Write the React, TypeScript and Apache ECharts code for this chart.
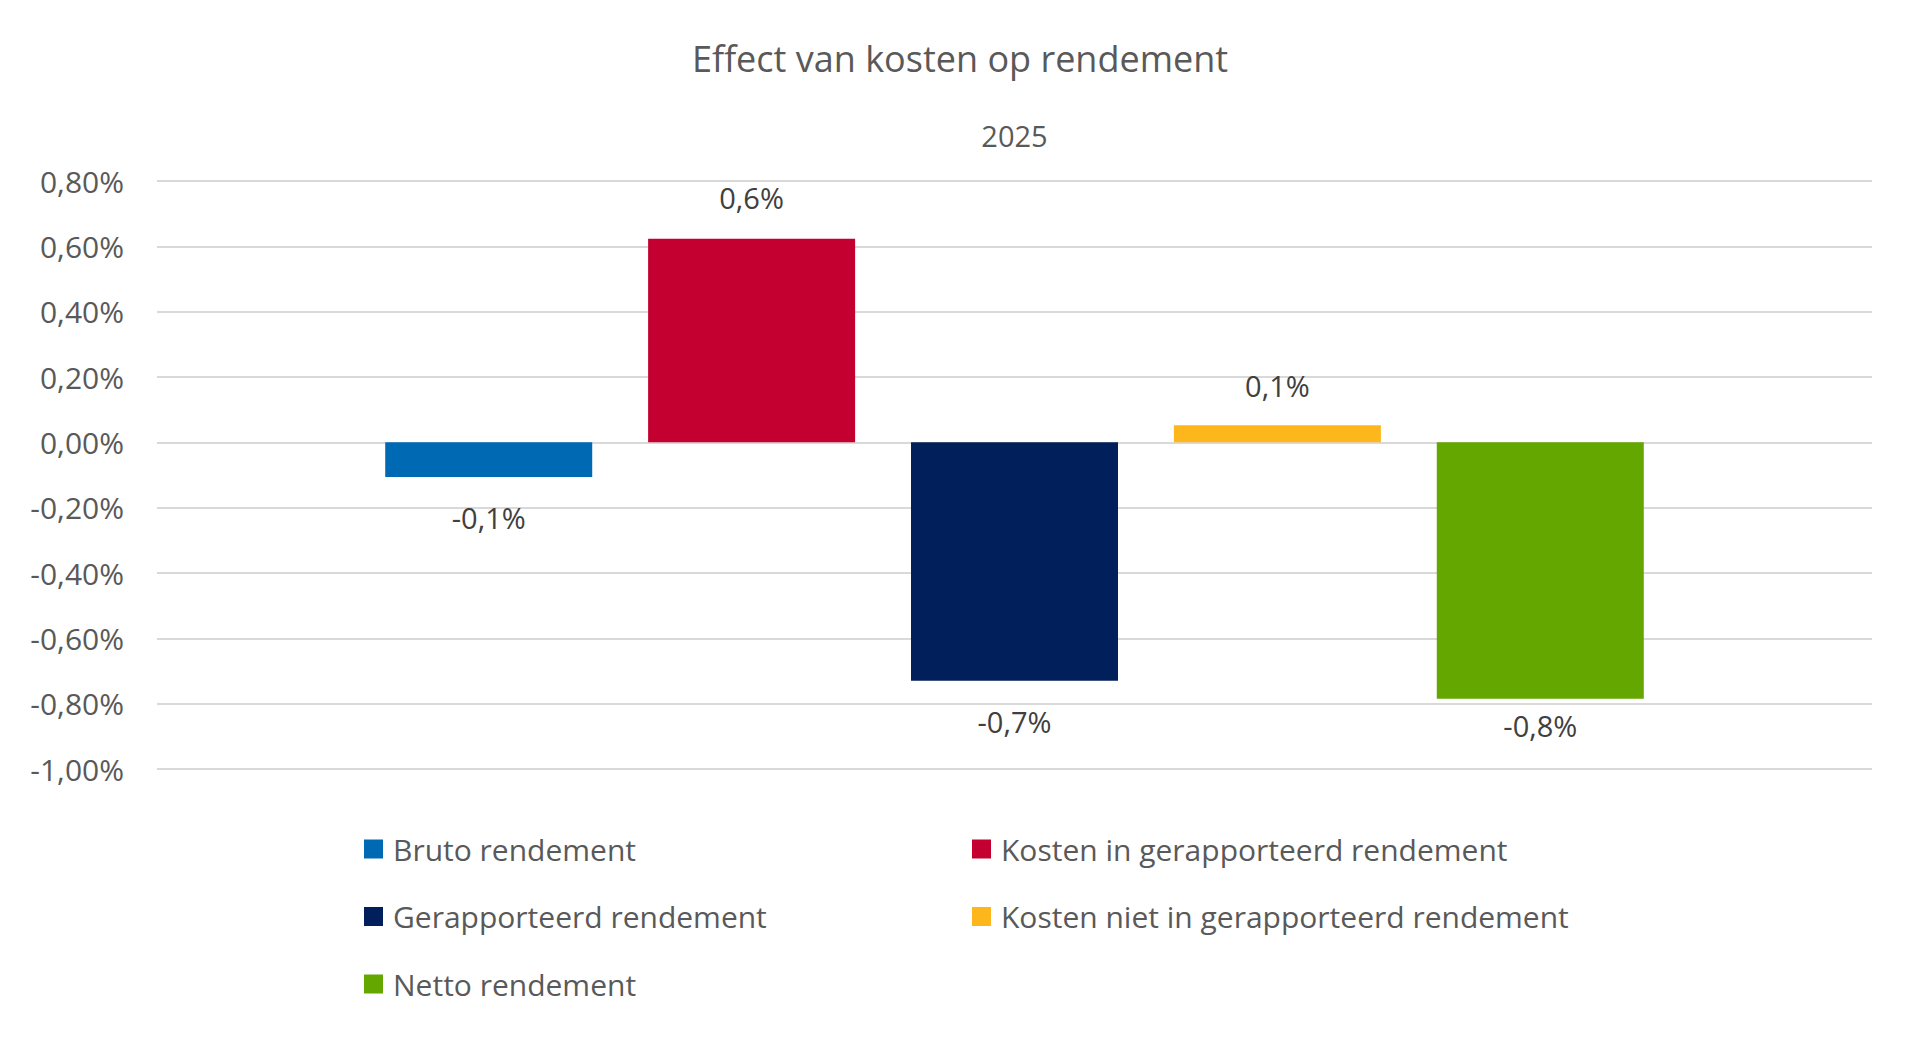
import React, { useEffect, useRef } from "react";
import * as echarts from "echarts";

const categories = ["2025"];
const seriesNames = [
  "Bruto rendement",
  "Kosten in gerapporteerd rendement",
  "Gerapporteerd rendement",
  "Kosten niet in gerapporteerd rendement",
  "Netto rendement",
];
const seriesValues = [-0.106, 0.623, -0.73, 0.052, -0.785];
const seriesColors = ["#0069b4", "#c40031", "#001f5b", "#fdb71c", "#64a700"];
const yMin = -1.0;
const yMax = 0.8;
const yInterval = 0.2;
const legendLeftColumn = ["Bruto rendement", "Gerapporteerd rendement", "Netto rendement"];
const legendRightColumn = ["Kosten in gerapporteerd rendement", "Kosten niet in gerapporteerd rendement"];

const FONT = "'Open Sans', sans-serif";
const labelDistances = [26, 27, 26, 25, 12];

export default function App() {
  const ref = useRef<HTMLDivElement>(null);
  useEffect(() => {
    if (!ref.current) return;
    const chart = echarts.init(ref.current, undefined, { renderer: "svg" });
    const fmtAxis = (v: number) => {
      const x = Math.abs(v) < 1e-9 ? 0 : v;
      return x.toFixed(2).replace(".", ",") + "%";
    };
    const fmtLabel = (v: number) => {
      const r = Math.round(v * 10) / 10;
      return r.toFixed(1).replace(".", ",") + "%";
    };
    const legendCommon = {
      orient: "vertical",
      padding: 0,
      itemWidth: 19,
      itemHeight: 19,
      itemGap: 37.5,
      icon: "rect",
      textStyle: { color: "#595959", fontSize: 30, fontFamily: FONT, padding: [0, 0, 0, 5] },
    };
    chart.setOption({
      animation: false,
      backgroundColor: "#ffffff",
      title: {
        text: "Effect van kosten op rendement",
        left: "center",
        top: 35,
        textStyle: { color: "#595959", fontSize: 36, fontWeight: "normal", fontFamily: FONT },
      },
      legend: [
        { ...legendCommon, left: 364, top: 834, data: legendLeftColumn },
        { ...legendCommon, left: 972, top: 834, data: legendRightColumn },
      ],
      grid: { left: 157, right: 48, top: 181, bottom: 270, containLabel: false },
      xAxis: {
        type: "category",
        data: categories,
        position: "top",
        axisLine: { show: false },
        axisTick: { show: false },
        axisLabel: { color: "#595959", fontSize: 29, fontFamily: FONT, margin: 31 },
      },
      yAxis: {
        type: "value",
        min: yMin,
        max: yMax,
        interval: yInterval,
        axisLine: { show: false },
        axisTick: { show: false },
        splitLine: { lineStyle: { color: "#d9d9d9", width: 2 } },
        axisLabel: {
          color: "#595959",
          fontSize: 30,
          fontFamily: FONT,
          margin: 33,
          padding: [0, 0, 5, 0],
          formatter: fmtAxis,
        },
      },
      series: seriesNames.map((name, i) => {
        const v = seriesValues[i];
        return {
          name,
          type: "bar",
          barWidth: 207,
          barGap: "27%",
          itemStyle: { color: seriesColors[i] },
          label: {
            show: true,
            position: v >= 0 ? "top" : "bottom",
            distance: labelDistances[i],
            color: "#404040",
            fontSize: 29,
            fontFamily: FONT,
            formatter: (p: any) => fmtLabel(p.value),
          },
          data: [v],
        };
      }),
    });
    return () => chart.dispose();
  }, []);
  return (
    <div
      ref={ref}
      style={{ position: "fixed", left: 0, top: 0, width: "1920px", height: "1039px", background: "#fff" }}
    />
  );
}
